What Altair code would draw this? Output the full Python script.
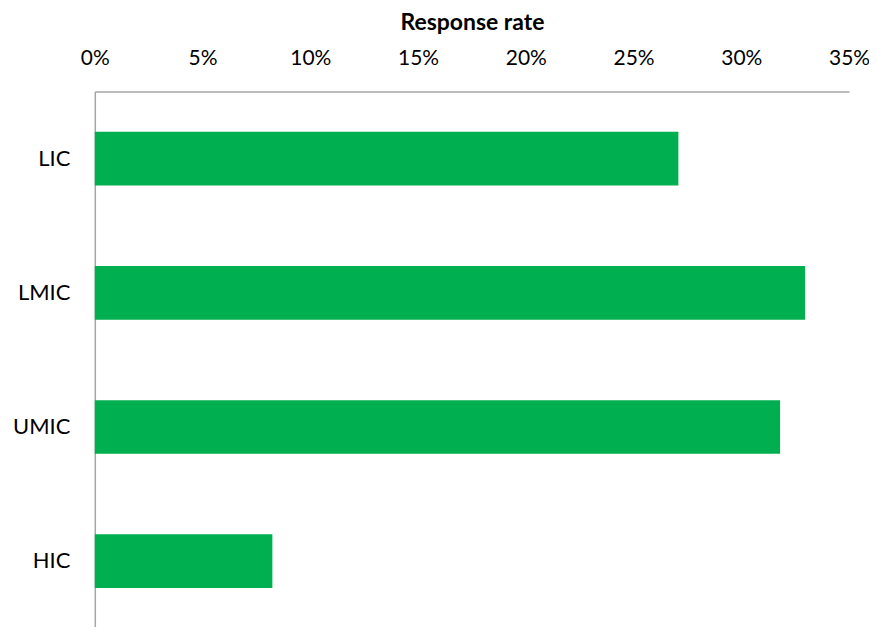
import altair as alt
import pandas as pd

categories = ["LIC", "LMIC", "UMIC", "HIC"]
rates = [0.2708, 0.3296, 0.3180, 0.0824]
tick_values = [0, 0.05, 0.10, 0.15, 0.20, 0.25, 0.30, 0.35]

df = pd.DataFrame({"group": categories, "rate": rates})

FONT = "Lato"
AXIS_COLOR = "#A6A6A6"

chart = alt.Chart(df).mark_bar(color="#00B050").encode(
    x=alt.X(
        "rate:Q",
        scale=alt.Scale(domain=[0, 0.35], nice=False),
        axis=alt.Axis(
            orient="top",
            title="Response rate",
            values=tick_values,
            format=".0%",
            grid=False,
            ticks=False,
            tickSize=0,
            domainColor=AXIS_COLOR,
            domainWidth=1.5,
            labelFont=FONT,
            labelFontSize=21,
            labelColor="#000000",
            labelPadding=23,
            labelFlush=False,
            titleFont=FONT,
            titleFontSize=23,
            titleFontWeight="bold",
            titleColor="#000000",
            titlePadding=13,
        ),
    ),
    y=alt.Y(
        "group:N",
        sort=categories,
        scale=alt.Scale(paddingInner=0.6, paddingOuter=0.3),
        axis=alt.Axis(
            title=None,
            grid=False,
            ticks=False,
            tickSize=0,
            domainColor=AXIS_COLOR,
            domainWidth=1.5,
            labelFont=FONT,
            labelFontSize=22,
            labelColor="#000000",
            labelPadding=25,
        ),
    ),
).properties(
    width=756,
    height=538,
    autosize=alt.AutoSizeParams(type="none"),
    padding={"left": 87, "top": 83, "right": 20, "bottom": 10},
).configure_view(stroke=None)

chart.save("out.html", embed_options={"renderer": "svg", "actions": False})
